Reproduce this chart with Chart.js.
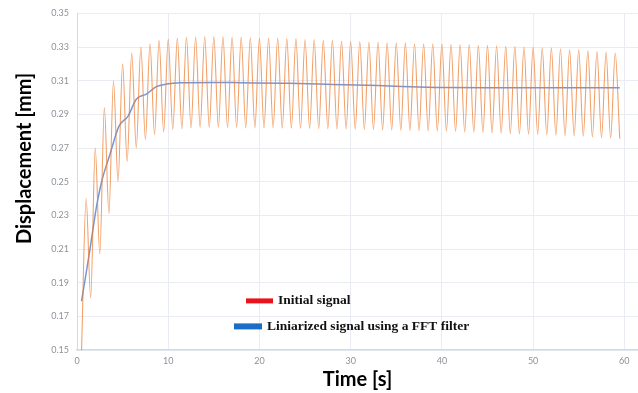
<!DOCTYPE html>
<html>
<head>
<meta charset="utf-8">
<script src="https://cdn.jsdelivr.net/npm/chart.js@4.4.1/dist/chart.umd.min.js"></script>
<style>
html,body{margin:0;padding:0;background:#fff;}
#wrap{width:638px;height:393px;position:relative;}
</style>
</head>
<body>
<div id="wrap"><canvas id="c" width="638" height="393"></canvas></div>
<script>
// ---- data ----
const xTickLabels = ['0','10','20','30','40','50','60'];
const yTickLabels = ['0.15','0.17','0.19','0.21','0.23','0.25','0.27','0.29','0.31','0.33','0.35'];
const xTitle = 'Time [s]';
const yTitle = 'Displacement [mm]';

// Initial signal: alternating peaks (whole seconds) and troughs (half seconds)
const signalTime = [
  0.5,1,1.5,2,2.5,3,3.5,4,4.5,5,5.5,6,6.5,7,7.5,8,8.5,9,9.5,10,
  10.5,11,11.5,12,12.5,13,13.5,14,14.5,15,15.5,16,16.5,17,17.5,18,18.5,19,19.5,20,
  20.5,21,21.5,22,22.5,23,23.5,24,24.5,25,25.5,26,26.5,27,27.5,28,28.5,29,29.5,30,
  30.5,31,31.5,32,32.5,33,33.5,34,34.5,35,35.5,36,36.5,37,37.5,38,38.5,39,39.5,40,
  40.5,41,41.5,42,42.5,43,43.5,44,44.5,45,45.5,46,46.5,47,47.5,48,48.5,49,49.5,50,
  50.5,51,51.5,52,52.5,53,53.5,54,54.5,55,55.5,56,56.5,57,57.5,58,58.5,59,59.5
];
const signalValue = [
  0.150,0.240,0.181,0.270,0.207,0.294,0.231,0.310,0.250,0.320,0.262,0.3265,0.270,0.330,0.275,0.332,0.278,0.334,0.2795,0.3347,
  0.281,0.3353,0.2815,0.3358,0.282,0.336,0.2822,0.3363,0.2822,0.3363,0.2822,0.3363,0.2822,0.336,0.2822,0.336,0.282,0.3355,0.282,0.3353,
  0.282,0.3353,0.282,0.3353,0.2818,0.335,0.2818,0.335,0.2816,0.3345,0.2816,0.3345,0.2815,0.334,0.2815,0.334,0.2813,0.3335,0.2813,0.3333,
  0.2812,0.3333,0.2811,0.333,0.281,0.333,0.2808,0.3325,0.2807,0.3325,0.2805,0.3325,0.2804,0.332,0.2803,0.332,0.2802,0.332,0.2801,0.332,
  0.280,0.3315,0.2798,0.3315,0.2796,0.3315,0.2794,0.331,0.2792,0.331,0.279,0.3308,0.2788,0.3305,0.2786,0.3305,0.2784,0.330,0.2782,0.330,
  0.278,0.3295,0.2778,0.3295,0.2776,0.329,0.2774,0.3285,0.2772,0.3285,0.277,0.328,0.2766,0.3275,0.2762,0.327,0.2758,0.3265,0.2755
];

// Linearized signal using an FFT filter
const filterTime  = [0.5,1.4,2.1,2.7,3.6,4.6,5.6,6.5,7.6,8.7,9.8,11.3,15,18,22.5,26.5,28,33,38.4,40,45,50,55,59.5];
const filterValue = [0.179,0.209,0.234,0.250,0.266,0.283,0.289,0.299,0.302,0.3065,0.308,0.3088,0.309,0.3088,0.3085,0.3081,0.3078,0.3071,0.3061,0.3059,0.3058,0.3058,0.3058,0.3058];

const seriesNames = ['Initial signal','Liniarized signal using a FFT filter'];
const legendColors = ['#e8141c','#1a6ec8'];

const toPoints = (xs, ys) => xs.map((x, i) => ({x: x, y: ys[i]}));

const overlayPlugin = {
  id: 'overlay',
  afterDraw(chart) {
    const ctx = chart.ctx;
    const a = chart.chartArea;
    ctx.save();
    // y axis title (placed as in the reference, above the vertical centre)
    ctx.save();
    ctx.translate(25, a.top + 145);
    ctx.rotate(-Math.PI / 2);
    ctx.font = 'bold 20px Lato, sans-serif';
    ctx.fillStyle = '#000';
    ctx.textAlign = 'center';
    ctx.textBaseline = 'middle';
    ctx.fillText(yTitle, 0, 0);
    ctx.restore();

    // inner legend
    ctx.font = 'bold 13.5px "Liberation Serif", "Times New Roman", serif';
    ctx.textBaseline = 'middle';
    ctx.textAlign = 'left';
    ctx.fillStyle = legendColors[0];
    ctx.fillRect(a.left + 169, a.top + 285, 27, 5);
    ctx.fillStyle = '#111';
    ctx.fillText(seriesNames[0], a.left + 201, a.top + 287);
    ctx.fillStyle = legendColors[1];
    ctx.fillRect(a.left + 157, a.top + 310, 28, 6);
    ctx.fillStyle = '#111';
    ctx.fillText(seriesNames[1], a.left + 190, a.top + 313);
    ctx.restore();
  }
};

new Chart(document.getElementById('c'), {
  type: 'line',
  data: {
    datasets: [
      {
        label: seriesNames[0],
        data: toPoints(signalTime, signalValue),
        borderColor: 'rgba(237,125,49,0.72)',
        borderWidth: 1.1,
        pointRadius: 0,
        cubicInterpolationMode: 'monotone',
        fill: false
      },
      {
        label: seriesNames[1],
        data: toPoints(filterTime, filterValue),
        borderColor: 'rgba(105,138,205,0.9)',
        borderWidth: 1.5,
        pointRadius: 0,
        cubicInterpolationMode: 'monotone',
        fill: false
      }
    ]
  },
  options: {
    responsive: false,
    animation: false,
    devicePixelRatio: 1,
    layout: {padding: {top: 10, right: 0, left: 0, bottom: 0}},
    plugins: {legend: {display: false}, tooltip: {enabled: false}},
    scales: {
      x: {
        type: 'linear',
        min: 0,
        max: 61.5,
        afterBuildTicks(scale) {
          scale.ticks = xTickLabels.map(v => ({value: Number(v)}));
        },
        afterFit(scale) { scale.height = 43; },
        ticks: {
          callback: (v) => String(v),
          color: '#8d929a',
          font: {family: 'Lato', size: 9},
          padding: 6,
          maxRotation: 0
        },
        grid: {color: '#e9edf3', drawTicks: false, lineWidth: 1},
        border: {color: '#d3dbe6', width: 1.5},
        title: {
          display: true,
          text: xTitle,
          color: '#000',
          font: {family: 'Lato', size: 20, weight: 'bold'},
          padding: {top: 0, bottom: 1}
        }
      },
      y: {
        type: 'linear',
        min: 0.15,
        max: 0.35,
        afterBuildTicks(scale) {
          scale.ticks = yTickLabels.map(v => ({value: Number(v)}));
        },
        afterFit(scale) { scale.width = 77; },
        ticks: {
          callback: (v) => Number(v).toFixed(2),
          color: '#8d929a',
          font: {family: 'Lato', size: 9},
          padding: 8
        },
        grid: {color: '#e9edf3', drawTicks: false, lineWidth: 1},
        border: {color: '#d3dbe6', width: 1},
        title: {display: false}
      }
    }
  },
  plugins: [overlayPlugin]
});
</script>
</body>
</html>
